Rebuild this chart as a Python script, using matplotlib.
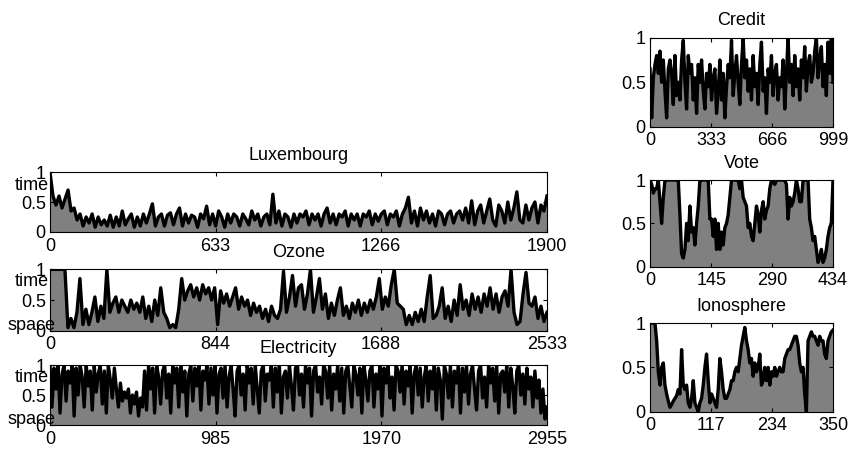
import numpy as np
import matplotlib
matplotlib.use("Agg")
import matplotlib.pyplot as plt

plt.rcParams['font.family'] = ['Liberation Sans', 'DejaVu Sans']
plt.rcParams['font.size'] = 13

# normalised scores per dataset (values along the series index)
lux_len = 1900
lux_vals = [1.0, 0.6, 0.45, 0.6, 0.4, 0.55, 0.7, 0.35, 0.4, 0.2,
            0.3, 0.1, 0.25, 0.15, 0.3, 0.08, 0.25, 0.12, 0.2, 0.1,
            0.28, 0.08, 0.25, 0.1, 0.35, 0.12, 0.22, 0.3, 0.08, 0.25,
            0.1, 0.3, 0.15, 0.3, 0.47, 0.1, 0.25, 0.3, 0.1, 0.28,
            0.32, 0.12, 0.3, 0.4, 0.1, 0.3, 0.15, 0.28, 0.25, 0.08,
            0.3, 0.22, 0.43, 0.12, 0.3, 0.1, 0.35, 0.25, 0.08, 0.3,
            0.15, 0.3, 0.25, 0.1, 0.3, 0.22, 0.12, 0.35, 0.2, 0.3,
            0.1, 0.25, 0.3, 0.12, 0.63, 0.15, 0.35, 0.1, 0.3, 0.25,
            0.08, 0.3, 0.15, 0.3, 0.25, 0.35, 0.12, 0.3, 0.2, 0.3,
            0.1, 0.3, 0.4, 0.15, 0.3, 0.12, 0.3, 0.25, 0.35, 0.1,
            0.3, 0.2, 0.3, 0.1, 0.3, 0.25, 0.35, 0.12, 0.3, 0.18,
            0.3, 0.35, 0.12, 0.3, 0.25, 0.35, 0.1, 0.3, 0.4, 0.58,
            0.15, 0.35, 0.1, 0.4, 0.2, 0.35, 0.15, 0.3, 0.1, 0.35,
            0.3, 0.12, 0.3, 0.35, 0.15, 0.3, 0.35, 0.2, 0.4, 0.15,
            0.52, 0.12, 0.35, 0.45, 0.15, 0.35, 0.55, 0.2, 0.1, 0.45,
            0.35, 0.15, 0.5, 0.2, 0.4, 0.67, 0.2, 0.15, 0.45, 0.2,
            0.4, 0.5, 0.15, 0.45, 0.35, 0.6]

ozone_len = 2533
ozone_vals = [1.0, 1.0, 1.0, 1.0, 1.0, 1.0, 0.05, 0.2, 0.05, 0.3, 0.85, 0.1, 0.35, 0.1, 0.3, 0.55,
              0.15, 0.4, 0.2, 1.0, 0.3, 0.45, 0.55, 0.3, 0.5, 0.4, 0.3, 0.5, 0.35, 0.45, 0.3, 0.55,
              0.2, 0.4, 0.15, 0.5, 0.25, 0.7, 0.3, 0.2, 0.05, 0.1, 0.05, 0.35, 0.85, 0.5, 0.65, 0.75,
              0.55, 0.7, 0.5, 0.75, 0.6, 0.7, 0.5, 0.7, 0.1, 0.65, 0.45, 0.6, 0.4, 0.55, 0.7, 0.35,
              0.55, 0.4, 0.5, 0.25, 0.45, 0.3, 0.4, 0.2, 0.35, 0.15, 0.4, 0.25, 0.2, 0.35, 0.97, 0.3,
              0.55, 0.9, 0.4, 0.7, 0.75, 0.35, 0.6, 1.0, 0.3, 0.55, 0.85, 0.35, 0.6, 0.2, 0.45, 0.25,
              0.5, 0.7, 0.25, 0.4, 0.2, 0.45, 0.3, 0.5, 0.25, 0.45, 0.3, 0.5, 0.35, 0.55, 0.85, 0.35,
              0.55, 0.4, 0.75, 1.0, 0.45, 0.4, 0.35, 0.1, 0.25, 0.1, 0.3, 0.15, 0.35, 0.15, 0.55, 0.9,
              0.2, 0.25, 0.4, 0.7, 0.2, 0.4, 0.15, 0.5, 0.25, 0.75, 0.35, 0.5, 0.25, 0.6, 0.35, 0.55,
              0.3, 0.6, 0.4, 0.7, 0.35, 0.6, 0.3, 0.55, 0.65, 0.4, 1.0, 0.3, 0.1, 0.15, 0.6, 0.95,
              0.45, 0.4, 0.55, 0.2, 0.4, 0.15, 0.3]

elec_len = 2955
elec_vals = [1.0, 0.3, 0.95, 0.6, 1.0, 0.2, 0.85, 1.0, 0.4, 0.9, 0.7, 1.0, 0.15, 0.95, 0.5, 1.0,
             0.8, 0.3, 1.0, 0.65, 0.9, 0.25, 1.0, 0.55, 0.85,
             1.0, 0.35, 0.9, 0.2, 1.0, 0.75, 0.45, 0.95, 0.6, 0.3, 0.7, 0.4, 0.55, 0.45, 0.6, 0.2,
             0.5, 0.35, 0.55, 0.15, 0.45, 0.3, 0.9, 0.25, 1.0,
             0.6, 0.95, 0.2, 1.0, 0.8, 0.35, 0.9, 1.0, 0.45, 0.85, 0.2, 1.0, 0.7, 0.95, 0.3, 1.0,
             0.55, 0.9, 0.15, 0.85, 1.0, 0.4, 0.95, 0.65, 1.0,
             0.25, 0.9, 0.75, 1.0, 0.35, 0.95, 0.5, 1.0, 0.2, 0.85, 0.95, 0.45, 1.0, 0.3, 0.8, 1.0,
             0.6, 0.15, 0.9, 1.0, 0.5, 0.85, 0.25, 1.0, 0.7,
             0.95, 0.35, 1.0, 0.6, 0.2, 0.9, 1.0, 0.4, 0.85, 0.75, 1.0, 0.3, 0.95, 0.55, 1.0, 0.2,
             0.8, 0.9, 0.45, 1.0, 0.65, 0.25, 0.95, 1.0, 0.5,
             0.85, 0.3, 1.0, 0.7, 0.95, 0.15, 0.9, 1.0, 0.55, 0.8, 0.35, 1.0, 0.9, 0.45, 1.0, 0.25,
             0.85, 0.6, 1.0, 0.4, 0.95, 0.2, 0.9, 1.0, 0.65,
             0.3, 1.0, 0.85, 0.5, 0.95, 0.2, 1.0, 0.75, 0.4, 0.9, 1.0, 0.3, 0.85, 0.6, 1.0, 0.15,
             0.95, 0.7, 1.0, 0.45, 0.8, 0.25, 1.0, 0.9, 0.55,
             1.0, 0.35, 0.9, 0.65, 1.0, 0.2, 0.85, 1.0, 0.5, 0.95, 0.3, 0.8, 1.0, 0.4, 0.9, 0.6,
             1.0, 0.25, 0.95, 0.75, 0.1, 1.0, 0.85, 0.45, 1.0,
             0.3, 0.9, 0.7, 1.0, 0.2, 0.95, 0.55, 1.0, 0.35, 0.85, 1.0, 0.6, 0.25, 0.9, 1.0, 0.45,
             0.8, 0.3, 1.0, 0.7, 0.95, 0.4, 1.0, 0.2, 0.85,
             0.9, 0.55, 1.0, 0.3, 0.95, 0.65, 0.2, 0.9, 1.0, 0.5, 0.85, 0.35, 0.95, 0.6, 0.8, 0.3,
             0.9, 0.45, 0.75, 0.2, 0.6, 0.1, 0.3]

credit_len = 999
credit_vals = [0.65, 0.1, 0.55, 0.7, 0.8, 0.6, 0.85, 0.5, 0.75, 0.4, 0.1, 0.65, 0.75, 0.6, 0.25, 0.8,
               0.35, 0.5, 0.3, 0.75, 0.97, 0.5, 0.2, 0.8, 0.6, 0.7, 0.3, 0.55, 0.15, 0.7, 0.5, 0.75,
               0.4, 0.2, 0.6, 0.45, 0.7, 0.3, 0.55, 0.65, 0.15, 0.4, 0.75, 0.3, 0.6, 0.1, 0.45, 0.7,
               0.55, 0.97, 0.35, 0.6, 0.8, 0.5, 0.25, 0.7, 1.0, 0.55, 0.75, 0.4, 0.65, 0.3, 0.8, 0.45,
               0.6, 0.25, 0.7, 0.95, 0.4, 0.55, 0.15, 0.65, 0.5, 0.8, 0.35, 0.6, 0.7, 0.3, 0.55, 0.45,
               0.75, 0.2, 0.6, 1.0, 0.5, 0.7, 0.35, 0.8, 0.45, 0.65, 0.3, 0.75, 0.55, 0.9, 0.4, 0.7,
               0.8, 0.5, 0.6, 0.85, 1.0, 0.55, 0.75, 0.9, 0.45, 0.7, 0.35, 0.95, 0.6, 1.0, 0.5]

vote_len = 434
vote_vals = [1.0, 0.95, 0.85, 0.9, 0.9, 1.0, 0.75, 0.5, 0.8, 1.0, 1.0, 1.0, 1.0, 1.0, 1.0, 1.0,
             1.0, 1.0, 0.6, 0.15, 0.1, 0.2, 0.5, 0.3, 0.7, 0.4, 0.45, 0.25, 0.5, 0.7, 1.0, 1.0,
             1.0, 1.0, 1.0, 1.0, 0.55, 0.55, 0.35, 0.55, 0.2, 0.5, 0.2, 0.4, 0.25, 0.45, 0.5, 0.6,
             0.8, 1.0, 1.0, 1.0, 1.0, 1.0, 0.9, 1.0, 0.8, 0.75, 0.7, 0.45, 0.5, 0.35, 0.3, 0.5,
             0.7, 0.6, 0.4, 0.65, 0.75, 0.55, 0.65, 0.7, 0.9, 1.0, 1.0, 0.95, 1.0, 1.0, 1.0, 1.0,
             1.0, 1.0, 0.95, 0.55, 0.8, 0.7, 0.75, 0.85, 1.0, 0.9, 0.75, 0.75, 1.0, 1.0, 1.0, 1.0,
             0.55, 0.45, 0.3, 0.35, 0.2, 0.05, 0.1, 0.2, 0.05, 0.1, 0.2, 0.35, 0.45, 0.5, 1.0]

iono_len = 350
iono_vals = [1.0, 1.0, 1.0, 1.0, 0.8, 0.45, 0.3, 0.5, 0.55, 0.3, 0.2, 0.12, 0.05, 0.08, 0.12, 0.15,
             0.18, 0.25, 0.2, 0.7, 0.3, 0.25, 0.3, 0.1, 0.05, 0.15, 0.35, 0.1, 0.05, 0.0, 0.1, 0.15,
             0.3, 0.5, 0.65, 0.35, 0.1, 0.2, 0.15, 0.1, 0.05, 0.25, 0.6, 0.45, 0.25, 0.15, 0.15, 0.2,
             0.25, 0.35, 0.35, 0.45, 0.5, 0.45, 0.6, 0.75, 0.85, 0.95, 0.8, 0.7, 0.55, 0.6, 0.4, 0.55,
             0.45, 0.5, 0.65, 0.3, 0.35, 0.5, 0.35, 0.5, 0.3, 0.45, 0.4, 0.5, 0.4, 0.45, 0.5, 0.45,
             0.45, 0.6, 0.65, 0.7, 0.7, 0.75, 0.8, 0.85, 0.85, 0.75, 0.55, 0.45, 0.5, 0.2, 0.0, 0.8,
             0.85, 0.9, 0.85, 0.85, 0.8, 0.75, 0.85, 0.8, 0.8, 0.65, 0.6, 0.8, 0.85, 0.9, 0.92]


def draw_series(ax, vals, n, title, labels=()):
    x = np.linspace(0, n, len(vals))
    ax.fill_between(x, 0, vals, color='#808080', lw=0)
    ax.plot(x, vals, color='black', lw=2.4)
    ax.set_xlim(0, n)
    ax.set_ylim(0, 1)
    step = round(n / 3)
    ax.set_xticks([0, step, 2 * step, n])
    ax.set_yticks([0, 0.5, 1])
    ax.set_yticklabels(['0', '0.5', '1'])
    ax.tick_params(direction='in', top=True, right=True, length=3, width=0.8)
    ax.tick_params(axis='x', pad=4)
    ax.tick_params(axis='y', pad=3)
    for s in ax.spines.values():
        s.set_linewidth(0.8)
    ax.set_title(title, fontsize=13, pad=9)
    # row labels squeezed in next to the y ticks
    for txt, y, dx in labels:
        ax.text(dx, y, txt, transform=ax.get_yaxis_transform(), ha='right',
                va='center', fontsize=13)


fig = plt.figure(figsize=(8.5, 4.51), dpi=100)

ax_lux = fig.add_axes([0.0588, 0.4856, 0.5847, 0.133])
ax_ozone = fig.add_axes([0.0588, 0.2667, 0.5847, 0.136])
ax_elec = fig.add_axes([0.0588, 0.0576, 0.5847, 0.1330])
ax_credit = fig.add_axes([0.7647, 0.719, 0.2153, 0.1973])
ax_vote = fig.add_axes([0.7647, 0.4086, 0.2153, 0.1922])
ax_iono = fig.add_axes([0.7647, 0.0871, 0.2153, 0.1967])

draw_series(ax_lux, lux_vals, lux_len, 'Luxembourg', [('time', 0.78, -0.002)])
draw_series(ax_ozone, ozone_vals, ozone_len, 'Ozone',
            [('time', 0.8, -0.002), ('space', 0.09, 0.012)])
draw_series(ax_elec, elec_vals, elec_len, 'Electricity',
            [('time', 0.8, -0.002), ('space', 0.09, 0.012)])
draw_series(ax_credit, credit_vals, credit_len, 'Credit')
draw_series(ax_vote, vote_vals, vote_len, 'Vote')
draw_series(ax_iono, iono_vals, iono_len, 'Ionosphere')

fig.savefig('out.png', dpi=100)
